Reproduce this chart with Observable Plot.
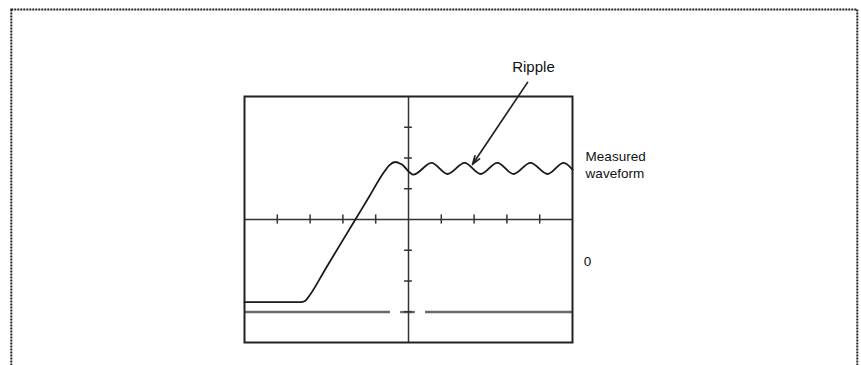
<!DOCTYPE html>
<html><head><meta charset="utf-8">
<script src="https://cdn.jsdelivr.net/npm/d3@7"></script>
<script src="https://cdn.jsdelivr.net/npm/@observablehq/plot@0.6"></script>
<style>html,body{margin:0;padding:0;background:#fff;overflow:hidden}</style>
</head><body><div id="chart"></div>
<script>
// Waveform trace, in screen divisions (x: -5..5, y: -4..4)
const waveX = [-5, -3.30, -3.15, -3.05, -2.50, -1.62, -1.20, -0.74, -0.58, -0.40, -0.22, 0.15, 0.70, 1.19, 1.71, 2.20, 2.71, 3.20, 3.72, 4.24, 4.73, 5.0];
const waveY = [-2.69, -2.69, -2.65, -2.52, -1.55, 0, 0.74, 1.55, 1.77, 1.87, 1.80, 1.46, 1.84, 1.48, 1.84, 1.48, 1.84, 1.48, 1.84, 1.48, 1.84, 1.62];
// Graticule ticks on the centre axes
const xTicks = [-4, -3, -2, -1, 1, 2, 3, 4];
const yTicks = [-3, -2, -1, 1, 2, 3];
// Zero reference trace (broken segments)
const zeroLevel = -3.01;
const zeroStart = [-5, -0.24, 0.52];
const zeroEnd = [-0.55, 0.21, 5];
// Labels
const labelRipple = ["Ripple"];
const labelWaveform = ["Measured\nwaveform"];
const labelZero = ["0"];

const wave = waveX.map((x, i) => ({x, y: waveY[i]}));
const zeroSegs = zeroStart.map((x1, i) => ({x1, x2: zeroEnd[i]}));

const font = "'Liberation Sans', Arial, Helvetica, sans-serif";

const chart = Plot.plot({
  width: 861,
  height: 365,
  marginLeft: 244,
  marginRight: 289,
  marginTop: 96,
  marginBottom: 23,
  x: {domain: [-5, 5], axis: null},
  y: {domain: [-4, 4], axis: null},
  style: {fontFamily: font, background: "#fff"},
  marks: [
    Plot.ruleY(zeroSegs, {y: () => zeroLevel, x1: "x1", x2: "x2", stroke: "#6a6a6a", strokeWidth: 2.4}),
    Plot.ruleX([0], {stroke: "#333", strokeWidth: 1.5}),
    Plot.ruleY([0], {stroke: "#333", strokeWidth: 1.5}),
    Plot.ruleX(xTicks, {x: d => d, y1: () => -0.15, y2: () => 0.15, stroke: "#333", strokeWidth: 1.5}),
    Plot.ruleY(yTicks, {y: d => d, x1: () => -0.12, x2: () => 0.12, stroke: "#333", strokeWidth: 1.5}),
    Plot.frame({stroke: "#222", strokeWidth: 2}),
    Plot.line(wave, {x: "x", y: "y", curve: "monotone-x", stroke: "#1a1a1a", strokeWidth: 1.8}),
    Plot.arrow([0], {x1: () => 3.63, y1: () => 4.46, x2: () => 1.95, y2: () => 1.79, headLength: 8, headAngle: 35, stroke: "#222", strokeWidth: 1.7}),
    Plot.text(labelRipple, {x: () => 3.81, y: () => 4.81, text: d => d, fontSize: 15, textAnchor: "middle", lineAnchor: "bottom", fill: "#111"}),
    Plot.text(labelWaveform, {x: () => 5.40, y: () => 1.34, text: d => d, fontSize: 13.5, lineHeight: 1.26, textAnchor: "start", lineAnchor: "bottom", fill: "#111"}),
    Plot.text(labelZero, {x: () => 5.34, y: () => -1.50, text: d => d, fontSize: 13.5, textAnchor: "start", lineAnchor: "bottom", fill: "#111"})
  ]
});

// dotted outer border of the figure
d3.select(chart).append("rect")
  .attr("x", 11.3).attr("y", 9.5).attr("width", 846).attr("height", 400)
  .attr("fill", "none").attr("stroke", "#222").attr("stroke-width", 2)
  .attr("stroke-dasharray", "2,1");

document.getElementById("chart").appendChild(chart);
</script>
</body></html>
